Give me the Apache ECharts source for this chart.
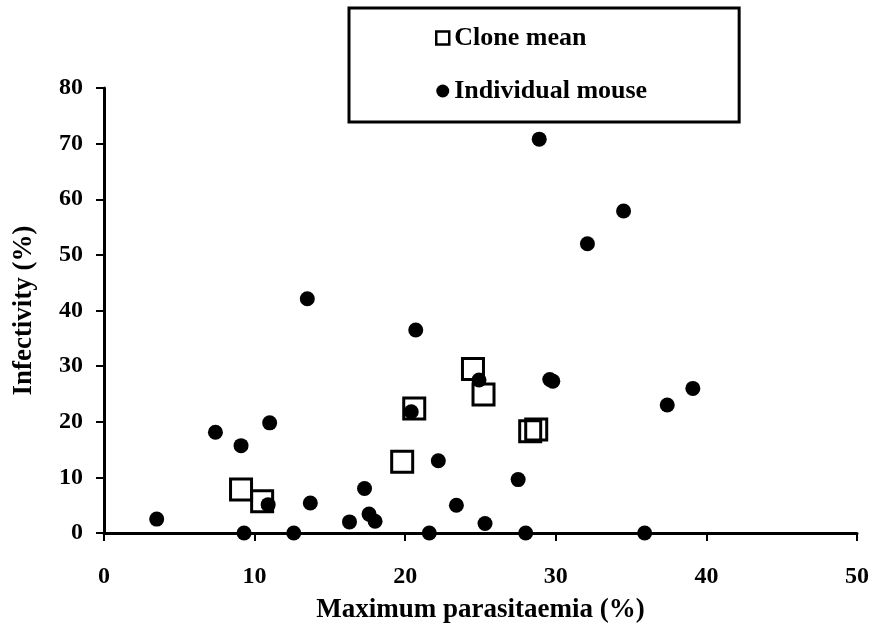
<!DOCTYPE html>
<html>
<head>
<meta charset="utf-8">
<script src="https://cdn.jsdelivr.net/npm/echarts@6/dist/echarts.min.js"></script>
<style>
  html, body { margin: 0; padding: 0; background: #fff; }
  #chart { width: 874px; height: 629px; }
</style>
</head>
<body>
<div id="chart"></div>
<script>
// Clone means: [maximum parasitaemia %, infectivity %]
const cloneParasitaemia = [9.1, 10.5, 19.8, 20.6, 24.5, 25.2, 28.3, 28.7];
const cloneInfectivity  = [7.8, 5.7, 12.8, 22.4, 29.5, 24.9, 18.3, 18.6];

// Individual mice: [maximum parasitaemia %, infectivity %]
const mouseParasitaemia = [3.5, 7.4, 9.1, 11.0, 9.3, 10.9, 12.6, 13.5, 13.7, 16.3,
                           17.3, 17.6, 18.0, 20.7, 20.4, 22.2, 21.6, 23.4, 24.9, 25.3,
                           27.5, 28.0, 28.9, 29.6, 29.8, 32.1, 34.5, 35.9, 37.4, 39.1];
const mouseInfectivity  = [2.5, 18.1, 15.7, 19.8, 0, 5.1, 0, 42.1, 5.4, 2.0,
                           8.0, 3.4, 2.1, 36.5, 21.8, 13.0, 0, 5.0, 27.5, 1.7,
                           9.6, 0, 70.8, 27.6, 27.3, 52.0, 57.9, 0, 23.0, 26.0];

const xTicks = { min: 0, max: 50, step: 10 };
const yTicks = { min: 0, max: 80, step: 10 };

const pair = (xs, ys) => xs.map((x, i) => [x, ys[i]]);
const serif = "'Liberation Serif', 'Times New Roman', serif";

const chart = echarts.init(document.getElementById('chart'), null, { renderer: 'canvas' });

const axisCommon = {
  axisLine: { show: true, onZero: false, lineStyle: { color: '#000', width: 3 } },
  axisTick: { show: true, inside: false, length: 8, lineStyle: { color: '#000', width: 2 } },
  splitLine: { show: false },
  nameLocation: 'middle',
  nameTextStyle: { fontFamily: serif, fontWeight: 'bold', fontSize: 27, color: '#000' }
};

chart.setOption({
  backgroundColor: '#fff',
  animation: false,
  grid: { left: 104, right: 17, top: 88, bottom: 93, containLabel: false },
  legend: {
    orient: 'vertical',
    left: 349,
    top: 8,
    padding: [17, 92, 18, 86],
    itemGap: 27,
    itemWidth: 13,
    itemHeight: 13,
    borderColor: '#000',
    borderWidth: 3,
    borderRadius: 0,
    textStyle: { fontFamily: serif, fontWeight: 'bold', fontSize: 26, color: '#000' },
    data: [
      { name: 'Clone mean', icon: 'rect',
        itemStyle: { color: '#fff', borderColor: '#000', borderWidth: 2.5 } },
      { name: 'Individual mouse', icon: 'circle',
        itemStyle: { color: '#000', borderWidth: 0 } }
    ]
  },
  xAxis: Object.assign({}, axisCommon, {
    type: 'value',
    min: xTicks.min, max: xTicks.max, interval: xTicks.step,
    name: 'Maximum parasitaemia (%)',
    nameGap: 64,
    axisLabel: { margin: 32, fontFamily: serif, fontWeight: 'bold', fontSize: 24, color: '#000' }
  }),
  yAxis: Object.assign({}, axisCommon, {
    type: 'value',
    min: yTicks.min, max: yTicks.max, interval: yTicks.step,
    name: 'Infectivity (%)',
    nameGap: 66,
    axisLabel: { margin: 21, fontFamily: serif, fontWeight: 'bold', fontSize: 24, color: '#000' }
  }),
  series: [
    {
      name: 'Clone mean',
      type: 'scatter',
      symbol: 'rect',
      symbolSize: 21,
      data: pair(cloneParasitaemia, cloneInfectivity),
      itemStyle: { color: 'rgba(255,255,255,0)', borderColor: '#000', borderWidth: 3, opacity: 1 },
      z: 2
    },
    {
      name: 'Individual mouse',
      type: 'scatter',
      symbol: 'circle',
      symbolSize: 15,
      data: pair(mouseParasitaemia, mouseInfectivity),
      itemStyle: { color: '#000', opacity: 1 },
      z: 3
    }
  ]
});
</script>
</body>
</html>
